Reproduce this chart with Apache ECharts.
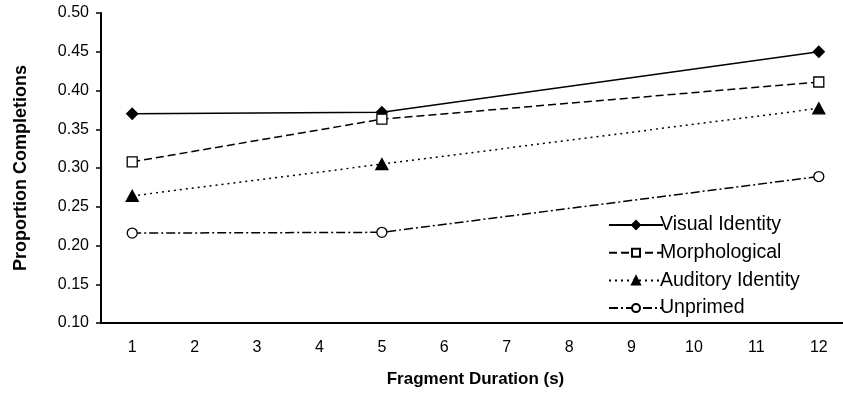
<!DOCTYPE html>
<html>
<head>
<meta charset="utf-8">
<script src="https://cdn.jsdelivr.net/npm/echarts@6/dist/echarts.min.js"></script>
<style>html,body{margin:0;padding:0;background:#fff;}#c{width:843px;height:394px;}</style>
</head>
<body>
<div id="c"></div>
<script>
var categories = ['1','2','3','4','5','6','7','8','9','10','11','12'];
var durations = ['1','5','12'];
var seriesNames = ['Visual Identity','Morphological','Auditory Identity','Unprimed'];
var visualIdentity = [0.370, 0.372, 0.450];
var morphological = [0.308, 0.363, 0.411];
var auditoryIdentity = [0.264, 0.305, 0.377];
var unprimed = [0.216, 0.217, 0.289];
var yTicks = {min: 0.10, max: 0.50, interval: 0.05};

function pairs(vals){ return durations.map(function(d,i){ return [d, vals[i]]; }); }

var FONT = '"Liberation Sans", Arial, sans-serif';
var chart = echarts.init(document.getElementById('c'), null, {renderer:'canvas'});
function mk(name, vals, symbol, size, fill, dash){
  return {
    name: name, type: 'line', data: pairs(vals),
    symbol: symbol, symbolSize: size,
    itemStyle: {color: fill, borderColor: '#000', borderWidth: 1.3, opacity: 1},
    lineStyle: {color: '#000', width: 1.5, type: dash},
    emphasis: {disabled: true},
    animation: false
  };
}
chart.setOption({
  backgroundColor: '#fff',
  animation: false,
  grid: {left: 101, top: 13, width: 749, height: 310, containLabel: false, outerBoundsMode: 'none'},
  xAxis: {
    type: 'category', data: categories, boundaryGap: true,
    name: 'Fragment Duration (s)', nameLocation: 'middle', nameGap: 48,
    nameTextStyle: {fontFamily: FONT, fontSize: 17, fontWeight: 'bold', color: '#000'},
    axisLine: {lineStyle: {color: '#000', width: 2}},
    axisTick: {show: false},
    axisLabel: {fontFamily: FONT, fontSize: 16, color: '#000', margin: 17},
    splitLine: {show: false}
  },
  yAxis: {
    type: 'value', min: yTicks.min, max: yTicks.max, interval: yTicks.interval,
    name: 'Proportion Completions', nameLocation: 'middle', nameGap: 71,
    nameTextStyle: {fontFamily: FONT, fontSize: 18, fontWeight: 'bold', color: '#000'},
    axisLine: {show: true, lineStyle: {color: '#000', width: 2}},
    axisTick: {show: true, inside: false, length: 5, lineStyle: {color: '#000', width: 1.5}},
    axisLabel: {fontFamily: FONT, fontSize: 16, color: '#000', margin: 12,
      formatter: function(v){ return v.toFixed(2); }},
    splitLine: {show: false}
  },
  legend: {
    orient: 'vertical', left: 603, top: 210,
    itemWidth: 54, itemHeight: 10, itemGap: 7.7,
    textStyle: {fontFamily: FONT, fontSize: 19.5, lineHeight: 20, color: '#000', padding: [0,0,0,-8]},
    data: seriesNames
  },
  series: [
    mk(seriesNames[0], visualIdentity, 'diamond', [11,11], '#000', 'solid'),
    mk(seriesNames[1], morphological, 'rect', [10,10], '#fff', [8,4]),
    mk(seriesNames[2], auditoryIdentity, 'triangle', [12,11], '#000', [2,4]),
    mk(seriesNames[3], unprimed, 'circle', [10,10], '#fff', [9,3,2,3])
  ]
});
</script>
</body>
</html>
